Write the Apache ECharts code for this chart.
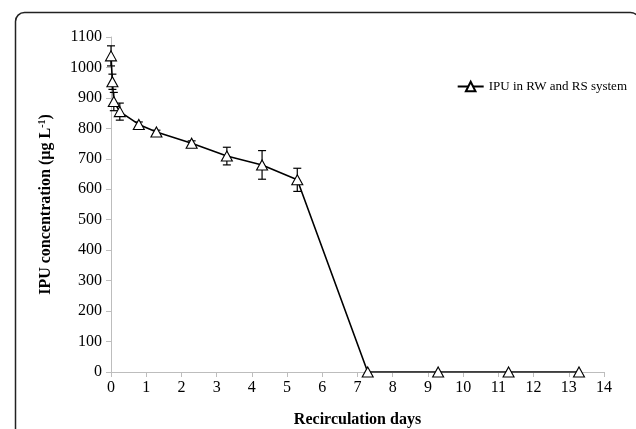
<!DOCTYPE html>
<html><head><meta charset="utf-8">
<script src="https://cdn.jsdelivr.net/npm/echarts@6/dist/echarts.min.js"></script>
<style>html,body{margin:0;padding:0;background:#fff}#c{width:636px;height:429px}</style>
</head><body><div id="c"></div>
<script>
var days = [0, 0.04, 0.08, 0.25, 0.79, 1.29, 2.29, 3.29, 4.29, 5.29, 7.29, 9.29, 11.29, 13.29];
var ipu = [1038, 953, 888, 855, 813, 788, 751, 709, 680, 631, 0, 0, 0, 0];
var ipuErr = [33, 25, 30, 28, 8, 6, 8, 29, 47, 38, 0, 0, 0, 0];
var seriesName = 'IPU in RW and RS system';
var xTitle = 'Recirculation days';

var pts = days.map(function(d,i){return [d, ipu[i]];});
var errData = days.map(function(d,i){return [d, ipu[i]-ipuErr[i], ipu[i]+ipuErr[i]];}).filter(function(e,i){return ipuErr[i]>0;});
var font = '"Liberation Serif", "Times New Roman", serif';
var chart = echarts.init(document.getElementById('c'));
chart.setOption({
  animation:false,
  backgroundColor:'#fff',
  graphic:[{type:'rect', shape:{x:15.5,y:12.5,width:624,height:470,r:9}, style:{fill:'none',stroke:'#222',lineWidth:1.5}, z:-1}],
  grid:{left:111, right:32, top:37, bottom:57, outerBoundsMode:'none', containLabel:false},
  legend:{data:[seriesName], right:4, top:75, itemWidth:26, itemHeight:12, itemGap:3,
    textStyle:{fontFamily:font, fontSize:13, color:'#000'}},
  xAxis:{type:'value', min:0, max:14, interval:1,
    name:xTitle, nameLocation:'middle', nameGap:40,
    nameTextStyle:{fontFamily:font, fontSize:16, fontWeight:'bold', color:'#000'},
    axisLine:{lineStyle:{color:'#bdbdbd', width:1}},
    axisTick:{show:true, length:5, lineStyle:{color:'#bdbdbd'}},
    axisLabel:{fontFamily:font, fontSize:16, color:'#000', margin:8},
    splitLine:{show:false}},
  yAxis:{type:'value', min:0, max:1100, interval:100,
    name:'{a|IPU concentration (µg L}{s|-1}{a|)}', nameLocation:'middle', nameGap:56, nameRotate:90,
    nameTextStyle:{rich:{a:{fontFamily:font, fontSize:16, fontWeight:'bold', color:'#000'}, s:{fontFamily:font, fontSize:10, fontWeight:'bold', color:'#000', verticalAlign:'top', padding:[0,0,8,0]}}},
    axisLine:{show:true, lineStyle:{color:'#bdbdbd', width:1}},
    axisTick:{show:true, length:5, lineStyle:{color:'#bdbdbd'}},
    axisLabel:{fontFamily:font, fontSize:16, color:'#000', margin:9, formatter:function(v){return String(v);}},
    splitLine:{show:false}},
  series:[
    {type:'custom', name:'err', silent:true, z:3,
     renderItem:function(params, api){
       var x = api.value(0);
       var lo = api.coord([x, api.value(1)]);
       var hi = api.coord([x, api.value(2)]);
       var w = 4;
       var st = {stroke:'#000', lineWidth:1.2, fill:null};
       return {type:'group', children:[
         {type:'line', shape:{x1:lo[0],y1:lo[1],x2:hi[0],y2:hi[1]}, style:st},
         {type:'line', shape:{x1:lo[0]-w,y1:lo[1],x2:lo[0]+w,y2:lo[1]}, style:st},
         {type:'line', shape:{x1:hi[0]-w,y1:hi[1],x2:hi[0]+w,y2:hi[1]}, style:st}
       ]};
     },
     encode:{x:0, y:[1,2]},
     data:errData},
    {type:'line', name:seriesName, data:pts, z:4,
     symbol:'triangle', symbolSize:[11,10],
     lineStyle:{color:'#000', width:1.6},
     itemStyle:{color:'#fff', borderColor:'#000', borderWidth:1.1}}
  ]
});
</script></body></html>
